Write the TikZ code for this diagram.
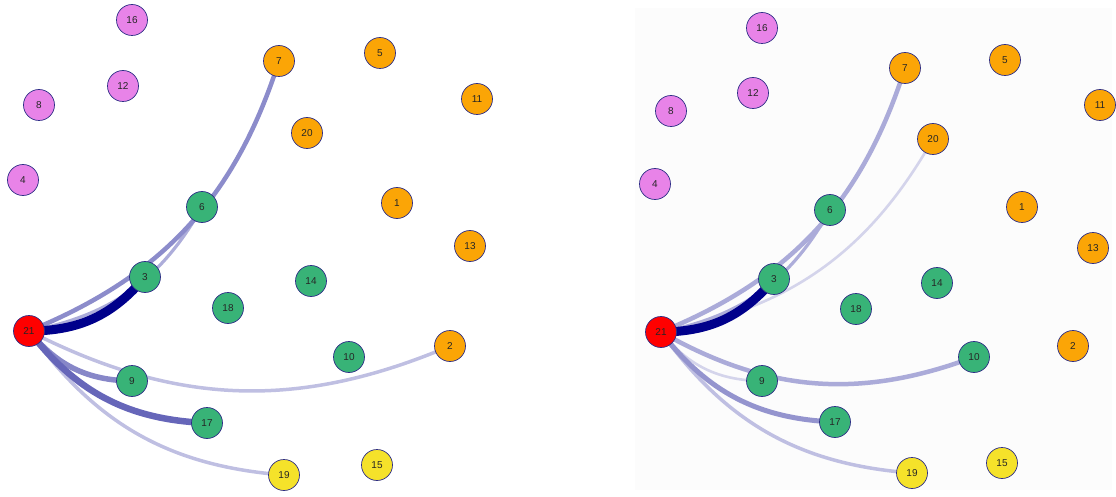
\documentclass[tikz,border=0pt]{standalone}
\usepackage{fontspec}
\setmainfont{Liberation Sans}
\usetikzlibrary{backgrounds}
\definecolor{vio}{HTML}{E883E8}
\definecolor{org}{HTML}{FBA506}
\definecolor{grn}{HTML}{38B377}
\definecolor{ylw}{HTML}{F5E22A}
\definecolor{rd}{HTML}{FF0000}
\definecolor{vframe}{HTML}{2E2E86}
\definecolor{labelc}{HTML}{262626}
\definecolor{nv}{HTML}{00008B}
\definecolor{panelbg}{HTML}{FCFCFC}
\begin{document}
\begin{tikzpicture}[x=1pt,y=-1pt,
  vtx/.style={circle, draw=vframe, line width=0.7pt, minimum size=31pt, inner sep=0pt,
    font=\fontsize{10}{12}\selectfont, text=labelc},
  pk/.style={vtx, fill=vio},
  og/.style={vtx, fill=org},
  gn/.style={vtx, fill=grn},
  yw/.style={vtx, fill=ylw},
  rn/.style={vtx, fill=rd},
  ed/.style={bend right=25},
  w1/.style={ed, line width=9pt, draw=nv},
  w2/.style={ed, line width=6.5pt, draw=nv!60!white},
  w3/.style={ed, line width=5.5pt, draw=nv!47!white},
  w4/.style={ed, line width=4.5pt, draw=nv!45!white},
  w5/.style={ed, line width=3.2pt, draw=nv!32!white},
  w6/.style={ed, line width=3.5pt, draw=nv!25!white},
  w7/.style={ed, line width=2.6pt, draw=nv!17!white},
  w8/.style={ed, line width=4.5pt, draw=nv!33!white},
  w9/.style={ed, line width=5pt, draw=nv!42!white},
]
\useasboundingbox (0,0) rectangle (1116,497);
% ---------- left panel ----------
\node[pk] (L16) at (132,20) {16};
\node[og] (L7) at (279,61) {7};
\node[og] (L5) at (380,53) {5};
\node[pk] (L12) at (123,86) {12};
\node[pk] (L8) at (39,105) {8};
\node[og] (L11) at (477,99) {11};
\node[og] (L20) at (307,133) {20};
\node[pk] (L4) at (23,180) {4};
\node[gn] (L6) at (202,207) {6};
\node[og] (L1) at (397,203) {1};
\node[og] (L13) at (470,246) {13};
\node[gn] (L3) at (145,277) {3};
\node[gn] (L14) at (311,281) {14};
\node[gn] (L18) at (228,308) {18};
\node[rn] (L21) at (29,331) {21};
\node[gn] (L10) at (349,357) {10};
\node[og] (L2) at (450,346) {2};
\node[gn] (L9) at (132,381) {9};
\node[gn] (L17) at (207,423) {17};
\node[yw] (L19) at (284,475) {19};
\node[yw] (L15) at (377,465) {15};
% ---------- right panel ----------
\node[pk] (R16) at (762,28) {16};
\node[og] (R7) at (905,68) {7};
\node[og] (R5) at (1005,60) {5};
\node[pk] (R12) at (753,93) {12};
\node[pk] (R8) at (671,111) {8};
\node[og] (R11) at (1100,105) {11};
\node[og] (R20) at (933,139) {20};
\node[pk] (R4) at (655,184) {4};
\node[gn] (R6) at (830,210) {6};
\node[og] (R1) at (1022,207) {1};
\node[og] (R13) at (1093,248) {13};
\node[gn] (R3) at (774,279) {3};
\node[gn] (R14) at (937,283) {14};
\node[gn] (R18) at (856,309) {18};
\node[rn] (R21) at (661,332) {21};
\node[gn] (R10) at (974,357) {10};
\node[og] (R2) at (1073,346) {2};
\node[gn] (R9) at (762,381) {9};
\node[gn] (R17) at (835,422) {17};
\node[yw] (R19) at (912,473) {19};
\node[yw] (R15) at (1002,463) {15};
\begin{pgfonlayer}{background}
\fill[panelbg] (635,8) rectangle (1112,490);
% left edges
\draw[w6] (L21.center) to (L2.center);
\draw[w6] (L21.center) to (L19.center);
\draw[w5] (L21.center) to (L6.center);
\draw[w4] (L21.center) to (L7.center);
\draw[w3] (L21.center) to (L9.center);
\draw[w2] (L21.center) to (L17.center);
\draw[w1] (L21.center) to (L3.center);
% right edges
\draw[w7] (R21.center) to (R20.center);
\draw[w7] (R21.center) to (R9.center);
\draw[w6] (R21.center) to (R19.center);
\draw[w5] (R21.center) to (R6.center);
\draw[w8] (R21.center) to (R7.center);
\draw[w8] (R21.center) to (R10.center);
\draw[w9] (R21.center) to (R17.center);
\draw[w1] (R21.center) to (R3.center);
\end{pgfonlayer}
\end{tikzpicture}
\end{document}
